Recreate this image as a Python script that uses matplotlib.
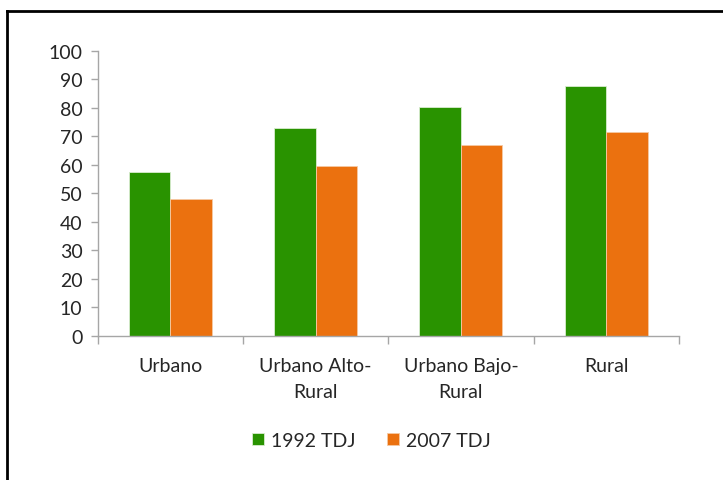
import matplotlib
matplotlib.use("Agg")
import matplotlib.pyplot as plt
import numpy as np

categories = ["Urbano", "Urbano Alto-\nRural", "Urbano Bajo-\nRural", "Rural"]
tdj_1992 = [57.4, 72.8, 80.4, 87.7]
tdj_2007 = [47.9, 59.7, 66.9, 71.4]
series_labels = ["1992 TDJ", "2007 TDJ"]

GREEN = "#299300"
ORANGE = "#EB710F"
AXIS_GREY = "#A6A6A6"
TEXT = "#262626"
FS = 14

plt.rcParams["font.family"] = ["Lato", "DejaVu Sans"]

fig = plt.figure(figsize=(7.23, 4.81), dpi=100)
ax = fig.add_axes([0.1351, 0.300, 0.8039, 0.592])

x = np.arange(len(categories))
w = 0.286
ax.bar(x - w / 2, tdj_1992, w, color=GREEN, edgecolor="#d9ecd0", linewidth=0.6, label=series_labels[0])
ax.bar(x + w / 2, tdj_2007, w, color=ORANGE, edgecolor="#f6c9a3", linewidth=0.6, label=series_labels[1])

ax.set_xlim(-0.5, len(categories) - 0.5)
ax.set_ylim(0, 100)
ax.set_yticks(range(0, 101, 10))

# category labels centred, tick marks on the boundaries
ax.set_xticks(x)
ax.set_xticklabels(categories, linespacing=1.65)
ax.set_xticks(np.arange(-0.5, len(categories)), minor=True)
ax.tick_params(axis="x", which="major", length=0, pad=15, labelsize=FS, labelcolor=TEXT)
ax.tick_params(axis="x", which="minor", length=6, width=1, color=AXIS_GREY, direction="out")
ax.tick_params(axis="y", length=5, width=1, color=AXIS_GREY, labelsize=FS, labelcolor=TEXT, pad=6)

for s in ("top", "right"):
    ax.spines[s].set_visible(False)
for s in ("left", "bottom"):
    ax.spines[s].set_color(AXIS_GREY)
    ax.spines[s].set_linewidth(1)

fig.legend(loc="center", bbox_to_anchor=(0.514, 0.083), ncol=2, frameon=False,
           fontsize=FS, handlelength=0.6, handleheight=0.6, handletextpad=0.4,
           columnspacing=1.6, labelcolor=TEXT)

# outer frame (only top and left edges are visible in the crop)
fig.add_artist(plt.Line2D([0.0097, 1.0], [0.9750, 0.9750], transform=fig.transFigure, color="black", lw=2))
fig.add_artist(plt.Line2D([0.0097, 0.0097], [0.0, 0.9750], transform=fig.transFigure, color="black", lw=2))

fig.savefig("out.png", dpi=100)
